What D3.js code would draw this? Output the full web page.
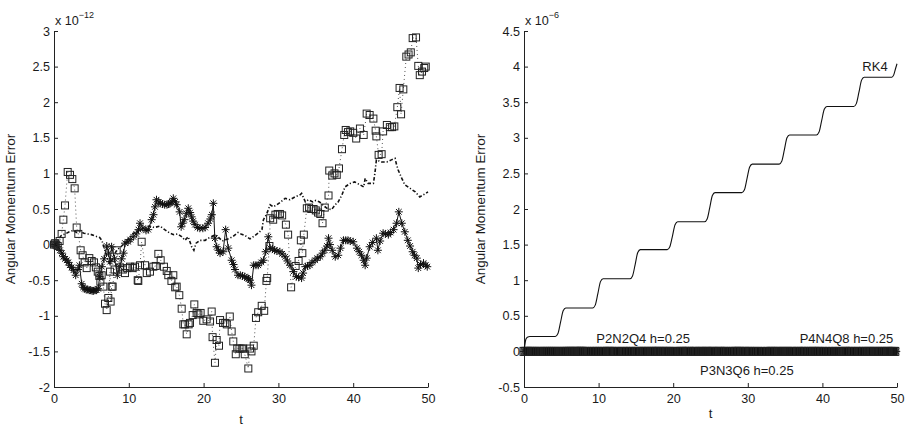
<!DOCTYPE html>
<html>
<head>
<meta charset="utf-8">
<script src="https://cdn.jsdelivr.net/npm/d3@7"></script>
<style>
  body { margin: 0; background: #fff; }
  text { font-family: "Liberation Sans", Arial, Helvetica, sans-serif; fill: #1a1a1a; }
</style>
</head>
<body>
<svg id="chart" width="911" height="426"></svg>
<script>
// ---- Data -------------------------------------------------------------
// Angular momentum error of the three symplectic schemes (units of 1e-12)
// Square markers, dotted line
const sqT = [0.0,0.15,0.3,0.5,0.75,1.02,1.25,1.47,1.83,2.14,2.45,2.76,3.03,3.25,3.56,3.83,4.1,4.37,4.72,5.04,5.35,5.6,5.85,6.06,6.2,6.37,6.6,6.82,7.04,7.26,7.49,7.57,7.71,7.84,8.1,8.38,8.82,9.2,9.49,9.8,10.16,10.5,10.83,11.19,11.27,11.5,11.72,12.17,12.4,12.83,13.28,13.6,13.95,14.26,14.7,15.07,15.28,15.7,15.95,16.2,16.4,16.75,17.07,17.29,17.5,17.74,18.0,18.18,18.54,18.76,19.07,19.3,19.6,19.96,20.4,20.86,21.08,21.2,21.52,21.75,22.06,22.2,22.6,22.9,23.1,23.5,23.75,23.97,24.3,24.5,24.8,25.1,25.3,25.5,25.98,26.2,26.4,26.7,27.0,27.3,27.77,28.1,28.4,28.5,28.8,28.9,29.3,29.6,29.9,30.2,30.5,31.0,31.3,31.7,32.3,32.7,33.0,33.2,33.4,33.8,34.1,34.4,34.7,35.0,35.3,35.6,35.9,36.2,36.7,36.8,37.2,37.5,37.8,38.1,38.5,38.8,39.0,39.3,39.6,40.0,40.4,40.9,41.4,41.8,42.2,42.7,43.0,43.1,43.4,43.8,44.0,44.5,44.9,45.2,45.5,45.9,46.2,46.4,46.7,47.1,47.4,47.7,47.95,48.4,48.7,48.9,49.2,49.5,49.7];
const sqV = [0.0,0.02,0.0,-0.02,0.05,0.15,0.35,0.55,1.02,0.98,0.92,0.79,0.24,0.15,-0.08,-0.15,-0.25,-0.33,-0.19,-0.23,-0.25,-0.32,-0.38,-0.44,-0.52,-0.43,-0.59,-0.83,-0.92,-0.75,-0.38,-0.80,-0.59,-0.59,-0.35,-0.08,-0.32,-0.35,-0.40,-0.33,-0.31,-0.33,-0.31,-0.50,-0.51,-0.29,0.04,-0.29,-0.40,-0.38,-0.31,-0.30,-0.13,-0.22,-0.31,-0.37,-0.43,-0.51,-0.43,-0.60,-0.59,-0.71,-0.90,-1.12,-1.12,-1.26,-1.12,-1.10,-0.99,-0.84,-0.96,-0.98,-0.96,-1.07,-1.05,-1.08,-0.94,-1.30,-1.66,-1.34,-1.42,-1.06,-1.10,-1.10,-1.12,-1.01,-1.22,-1.36,-1.54,-1.46,-1.46,-1.46,-1.46,-1.54,-1.74,-1.46,-1.50,-1.42,-1.03,-0.95,-0.86,-0.93,-0.51,-0.47,-0.02,0.37,0.35,0.42,0.43,0.43,0.41,0.28,0.14,-0.60,-0.30,-0.23,0.06,-0.12,0.14,0.51,0.52,0.50,0.50,0.48,0.45,0.43,0.30,0.52,0.69,1.04,0.97,1.00,0.98,1.07,1.34,1.54,1.61,1.58,1.59,1.57,1.49,1.63,1.54,1.84,1.82,1.77,1.60,1.52,1.26,1.27,1.59,1.68,1.65,1.65,1.66,1.93,2.20,1.83,2.18,2.64,2.67,2.70,2.90,2.91,2.51,2.38,2.43,2.48,2.50];

// Asterisk markers, solid line
const stT = [0.0,0.25,0.5,0.8,1.05,1.25,1.5,1.7,1.9,2.1,2.35,2.6,2.9,3.2,3.4,3.7,3.9,4.1,4.3,4.5,4.7,4.9,5.1,5.3,5.5,5.7,5.9,6.1,6.4,6.7,7.05,7.3,7.5,7.7,8.1,8.47,8.8,9.05,9.3,9.5,9.9,10.2,10.6,11.0,11.3,11.5,11.9,12.3,12.6,13.06,13.3,13.5,13.7,14.0,14.2,14.5,14.8,15.1,15.3,15.5,15.75,15.95,16.2,16.4,16.8,17.0,17.2,17.4,17.7,17.95,18.2,18.4,18.6,18.85,19.2,19.5,19.9,20.2,20.6,20.9,21.1,21.3,21.5,21.75,22.0,22.2,22.6,22.95,23.3,23.75,24.0,24.2,24.6,24.9,25.2,25.5,25.8,26.0,26.2,26.4,26.7,27.0,27.3,27.7,28.0,28.3,28.65,28.9,29.2,29.5,29.8,30.2,30.5,30.9,31.2,31.55,32.0,32.4,32.7,33.1,33.3,33.6,33.9,34.2,34.5,34.9,35.2,35.6,35.9,36.2,36.5,36.7,36.9,37.2,37.6,38.0,38.3,38.7,39.0,39.3,39.6,40.0,40.5,40.8,41.1,41.4,41.6,41.8,42.2,42.6,43.1,43.3,43.6,44.0,44.3,44.7,45.0,45.4,45.8,46.1,46.5,46.9,47.3,47.6,47.95,48.2,48.5,48.7,49.0,49.4,49.7,49.9];
const stV = [0.0,0.0,-0.03,-0.08,-0.12,-0.17,-0.2,-0.22,-0.25,-0.29,-0.32,-0.36,-0.43,-0.35,-0.29,-0.55,-0.6,-0.62,-0.63,-0.63,-0.64,-0.64,-0.65,-0.65,-0.64,-0.64,-0.62,-0.45,-0.31,-0.2,-0.02,-0.12,-0.24,-0.03,-0.2,-0.43,-0.31,-0.2,-0.12,0.02,0.04,0.07,0.11,0.15,0.21,0.30,0.23,0.20,0.21,0.35,0.42,0.53,0.63,0.60,0.58,0.57,0.56,0.56,0.57,0.58,0.60,0.65,0.60,0.56,0.46,0.25,0.30,0.35,0.44,0.51,0.45,0.39,0.33,0.28,0.24,0.23,0.23,0.24,0.30,0.36,0.42,0.58,0.09,-0.03,-0.08,-0.12,-0.10,0.21,-0.05,-0.22,-0.28,-0.35,-0.43,-0.43,-0.44,-0.45,-0.47,-0.48,-0.50,-0.57,-0.29,-0.29,-0.29,-0.25,-0.22,-0.10,0.11,-0.05,-0.06,-0.08,-0.09,-0.10,-0.13,-0.17,-0.23,-0.29,-0.38,-0.45,-0.46,-0.47,-0.40,-0.31,-0.30,-0.29,-0.25,-0.22,-0.19,-0.17,-0.12,-0.08,-0.02,0.09,0.0,-0.08,-0.17,-0.15,-0.05,0.06,0.06,0.06,0.05,0.04,-0.05,-0.10,-0.15,-0.22,-0.29,-0.19,-0.03,0.03,0.09,-0.08,0.05,0.16,0.15,0.14,0.17,0.21,0.30,0.46,0.30,0.18,0.06,-0.02,-0.10,-0.15,-0.19,-0.33,-0.28,-0.26,-0.29,-0.31];

// Dash-dot line
const dtT = [0.0,0.3,0.6,1.0,1.5,2.05,2.6,3.0,3.5,4.0,4.5,5.0,5.5,6.1,6.4,6.8,7.26,7.5,7.9,8.38,9.05,9.7,10.2,10.6,11.3,11.9,12.4,12.8,13.4,14.2,14.8,15.5,16.0,16.5,17.1,17.5,17.95,18.4,18.7,19.0,19.5,20.2,20.6,21.1,21.5,22.0,22.5,23.0,23.5,24.0,24.6,25.0,25.5,26.2,26.9,27.4,27.8,28.0,28.4,28.9,29.3,29.8,30.2,30.9,31.55,32.2,32.9,33.1,33.6,34.0,34.6,35.0,35.5,36.0,36.5,37.1,37.6,38.0,38.5,38.9,39.6,40.2,40.9,41.4,41.6,42.0,42.7,42.9,43.1,43.8,44.5,45.1,45.6,45.8,46.0,46.5,46.9,47.6,48.3,48.9,49.4,50.0];
const dtV = [0.0,0.02,0.08,0.13,0.15,0.18,0.20,0.17,0.18,0.16,0.15,0.14,0.12,0.10,0.06,-0.08,-0.22,-0.29,-0.17,-0.08,-0.02,0.06,0.10,0.16,0.18,0.23,0.25,0.26,0.24,0.26,0.21,0.16,0.14,0.15,0.11,0.06,0.11,-0.03,-0.08,0.02,0.06,0.06,0.09,0.11,0.14,0.10,0.05,0.07,0.09,0.12,0.17,0.15,0.13,0.08,0.13,0.17,0.21,0.35,0.42,0.56,0.53,0.56,0.59,0.65,0.63,0.67,0.70,0.72,0.60,0.63,0.60,0.62,0.60,0.55,0.51,0.49,0.56,0.60,0.70,0.81,0.86,0.88,0.84,0.81,0.93,0.86,0.86,1.00,1.19,1.16,1.16,1.19,1.21,1.12,1.05,0.93,0.84,0.79,0.74,0.67,0.70,0.74];

// RK4 angular momentum error (units of 1e-6): plateaus joined by smooth steps
const rkT = [0.0,0.1,0.25,0.45,0.8,
  4.2,4.55,4.9,5.25,5.6, 9.2,9.55,9.9,10.25,10.6, 14.2,14.55,14.9,15.25,15.6,
  19.2,19.55,19.9,20.25,20.6, 24.2,24.55,24.9,25.25,25.6, 29.2,29.55,29.9,30.25,30.6,
  34.2,34.55,34.9,35.25,35.6, 39.2,39.55,39.9,40.25,40.6, 44.2,44.55,44.9,45.25,45.6,
  49.3,49.55,49.8,50.0];
const rkV = [0.0,0.08,0.17,0.2,0.21,
  0.21,0.25,0.41,0.57,0.61, 0.61,0.65,0.81,0.98,1.02, 1.02,1.06,1.22,1.39,1.43,
  1.43,1.47,1.62,1.78,1.82, 1.82,1.86,2.02,2.19,2.23, 2.23,2.27,2.43,2.59,2.63,
  2.63,2.67,2.83,3.0,3.04, 3.04,3.08,3.24,3.4,3.44, 3.44,3.48,3.64,3.81,3.85,
  3.85,3.88,3.97,4.04];

// Axis ticks
const xTicks = [0, 10, 20, 30, 40, 50];
const yTicksLeft = [-2, -1.5, -1, -0.5, 0, 0.5, 1, 1.5, 2, 2.5, 3];
const yTicksRight = [-0.5, 0, 0.5, 1, 1.5, 2, 2.5, 3, 3.5, 4, 4.5];

// Text annotations in the RK4 panel
const schemeNames = ["RK4", "P2N2Q4 h=0.25", "P4N4Q8 h=0.25", "P3N3Q6 h=0.25"];

// ---- Drawing ----------------------------------------------------------
const svg = d3.select("#chart");
const FS = 12.6;

const zip = (ts, vs, k = 1) => ts.map((t, i) => [t, vs[i] * k]);
const sq = zip(sqT, sqV), st = zip(stT, stV), dt = zip(dtT, dtV), rk = zip(rkT, rkV);

function asteriskPath(r) {
  const a = r * 0.7071;
  return `M${-r},0L${r},0M0,${-r}L0,${r}M${-a},${-a}L${a},${a}M${-a},${a}L${a},${-a}`;
}

function panel(x0, x1, y0, y1, yDomain, yTicks, exponent, xLabelY) {
  const x = d3.scaleLinear().domain([0, 50]).range([x0, x1]);
  const y = d3.scaleLinear().domain(yDomain).range([y1, y0]);
  const g = svg.append("g");

  const xAxis = d3.axisBottom(x).tickValues(xTicks).tickSize(-4).tickSizeOuter(0)
    .tickPadding(7).tickFormat(d => String(d));
  const yAxis = d3.axisLeft(y).tickValues(yTicks).tickSize(-4).tickSizeOuter(0)
    .tickPadding(4).tickFormat(d => String(d));

  const gx = g.append("g").attr("transform", `translate(0,${y1})`).call(xAxis);
  const gy = g.append("g").attr("transform", `translate(${x0},0)`).call(yAxis);
  [gx, gy].forEach(a => {
    a.selectAll("path, line").attr("stroke", "#222").attr("stroke-width", 1);
    a.selectAll("text").attr("font-size", FS).attr("font-family", null).attr("fill", "#1a1a1a");
  });

  // axis titles
  g.append("text").attr("x", (x0 + x1) / 2).attr("y", xLabelY)
    .attr("text-anchor", "middle").attr("font-size", FS + 0.6).text("t");
  g.append("text")
    .attr("transform", `translate(${x0 - 39},${(y0 + y1) / 2}) rotate(-90)`)
    .attr("text-anchor", "middle").attr("font-size", 13.4).text("Angular Momentum Error");

  // scale factor above the y axis
  const ex = g.append("text").attr("x", x0 + 1).attr("y", y0 - 6).attr("font-size", FS);
  ex.append("tspan").text("x 10");
  ex.append("tspan").attr("dy", -7).attr("font-size", 9).text(exponent);

  return { g, x, y };
}

function drawSeries(p, sqData, stData, dtData, squareSize, dtWidth) {
  const line = d3.line().x(d => p.x(d[0])).y(d => p.y(d[1]));
  // dotted line through the squares
  p.g.append("path").datum(sqData).attr("d", line)
    .attr("fill", "none").attr("stroke", "#555").attr("stroke-width", 1)
    .attr("stroke-dasharray", "1,3");
  // solid line through the asterisks
  p.g.append("path").datum(stData).attr("d", line)
    .attr("fill", "none").attr("stroke", "#111").attr("stroke-width", 1);
  // asterisks
  p.g.append("g").selectAll("path").data(stData).join("path")
    .attr("transform", d => `translate(${p.x(d[0])},${p.y(d[1])})`)
    .attr("d", asteriskPath(4)).attr("fill", "none").attr("stroke", "#111").attr("stroke-width", 1);
  // dash-dot line
  p.g.append("path").datum(dtData).attr("d", line)
    .attr("fill", "none").attr("stroke", "#111").attr("stroke-width", dtWidth)
    .attr("stroke-dasharray", dtWidth > 2 ? null : "3.5,2,1.2,2");
  // open squares
  const h = squareSize / 2;
  p.g.append("g").selectAll("rect").data(sqData).join("rect")
    .attr("x", d => p.x(d[0]) - h).attr("y", d => p.y(d[1]) - h)
    .attr("width", squareSize).attr("height", squareSize)
    .attr("fill", "none").attr("stroke", "#222").attr("stroke-width", 1);
}

// Left panel: the three symplectic schemes
const L = panel(54, 428, 31, 387, [-2, 3], yTicksLeft, "\u221212", 424);
drawSeries(L, sq, st, dt, 7, 1.6);

// Right panel: RK4 against the same schemes (converted to units of 1e-6);
// at this scale the three schemes merge into one dense band along zero
const R = panel(524, 897, 31, 387, [-0.5, 4.5], yTicksRight, "\u22126", 418);
drawSeries(R, zip(sqT, sqV, 1e-6), zip(stT, stV, 1e-6), zip(dtT, dtV, 1e-6), 8, 7);
R.g.append("path").datum(rk)
  .attr("d", d3.line().x(d => R.x(d[0])).y(d => R.y(d[1])).curve(d3.curveMonotoneX))
  .attr("fill", "none").attr("stroke", "#111").attr("stroke-width", 1.1);

// scheme annotations
const ann = [
  { name: schemeNames[0], t: 47.05, v: 3.94, anchor: "middle" },
  { name: schemeNames[1], t: 9.7, v: 0.12, anchor: "start" },
  { name: schemeNames[2], t: 49.5, v: 0.12, anchor: "end" },
  { name: schemeNames[3], t: 23.6, v: -0.33, anchor: "start" }
];
R.g.selectAll("text.ann").data(ann).join("text").attr("class", "ann")
  .attr("x", d => R.x(d.t)).attr("y", d => R.y(d.v))
  .attr("text-anchor", d => d.anchor).attr("font-size", 13).text(d => d.name);
</script>
</body>
</html>
